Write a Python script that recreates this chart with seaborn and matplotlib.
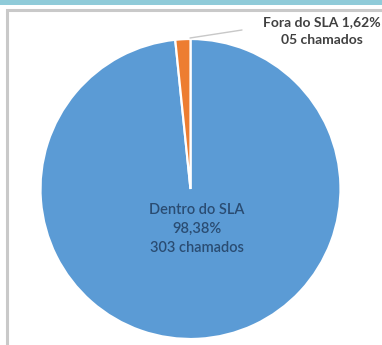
#!/usr/bin/env python3
"""Pie: chamados dentro / fora do SLA."""

import matplotlib.pyplot as plt
from matplotlib.patches import Rectangle
import seaborn as sns

labels = ["Dentro do SLA", "Fora do SLA"]
chamados = [303, 5]
percent_txt = ["98,38%", "1,62%"]
count_txt = ["303 chamados", "05 chamados"]

W, H = 382, 345


def py(y):
    # pixel row (top origin) -> data y
    return H - y


def main() -> None:
    sns.set_theme(style="white")
    plt.rcParams["font.family"] = ["Lato", "DejaVu Sans"]
    colors = ["#5b9bd5", "#ed7d31"]

    fig = plt.figure(figsize=(W / 100, H / 100), dpi=100)
    ax = fig.add_axes([0, 0, 1, 1])

    # top band and frame
    ax.add_patch(Rectangle((0, py(4.5)), W, 4.5, color="#8fcbd9", lw=0))
    ax.plot([7, 7, W], [0, py(10), py(10)], color="#c9c9c9", lw=2.2,
            solid_capstyle="butt", solid_joinstyle="miter")

    ax.pie(
        chamados,
        colors=colors,
        startangle=90,
        counterclock=False,
        center=(190.5, py(189)),
        radius=150,
        wedgeprops={"edgecolor": "white", "linewidth": 1.6},
        frame=True,
    )
    ax.set_xlim(0, W)
    ax.set_ylim(0, H)
    ax.set_aspect("auto")
    ax.axis("off")

    # leader line for small slice
    ax.plot([190, 242], [py(38), py(30)], color="#c8c8c8", lw=1.0)

    ax.text(197, py(229), f"{labels[0]}\n{percent_txt[0]}\n{count_txt[0]}",
            ha="center", va="center", fontsize=10.5, fontweight="semibold",
            color="#2a4c72", linespacing=1.5)
    ax.text(322, py(31), f"{labels[1]} {percent_txt[1]}\n{count_txt[1]}",
            ha="center", va="center", fontsize=10, fontweight="bold",
            color="#404040", linespacing=1.6)

    fig.savefig("out.png", dpi=100)


if __name__ == "__main__":
    main()
